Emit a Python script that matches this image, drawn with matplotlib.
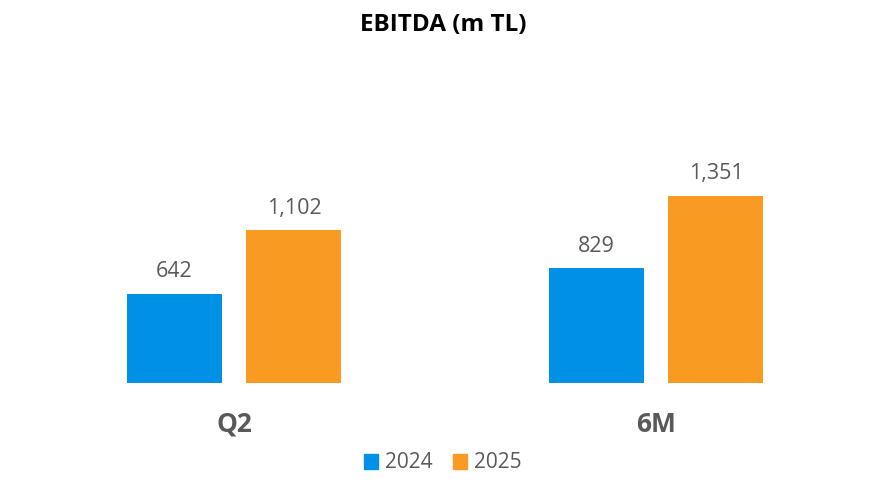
import matplotlib.pyplot as plt
import numpy as np
from matplotlib.patches import Patch

categories = ["Q2", "6M"]
series_names = ["2024", "2025"]
values_2024 = [642, 829]
values_2025 = [1102, 1351]

colors = ["#0091E6", "#F99A22"]
text_gray = "#595959"
font = "Open Sans"

fig = plt.figure(figsize=(8.86, 4.88), dpi=100)
ax = fig.add_axes([23 / 886, 105 / 488, 844 / 886, 323 / 488])

x = np.arange(len(categories))
width = 0.225
offset = (width + 0.059) / 2

for vals, col, shift in [(values_2024, colors[0], -offset), (values_2025, colors[1], offset)]:
    bars = ax.bar(x + shift, vals, width, color=col)
    for b, v in zip(bars, vals):
        ax.annotate(f"{v:,}", xy=(b.get_x() + b.get_width() / 2, v),
                    xytext=(0, 12), textcoords="offset points",
                    ha="center", va="baseline", fontsize=15.5,
                    color=text_gray, family=font)

for i, cat in enumerate(categories):
    ax.annotate(cat, xy=(i, 0), xycoords=("data", "axes fraction"),
                xytext=(0, -35), textcoords="offset points",
                ha="center", va="baseline", fontsize=19,
                fontweight="bold", color=text_gray, family=font)

ax.set_xlim(-0.5, 1.5)
ax.set_ylim(0, 2332)
ax.axis("off")

fig.text(0.5, 1 - 31 / 488, "EBITDA (m TL)", ha="center", va="baseline",
         fontsize=17.5, fontweight="bold", color="black", family=font)

handles = [Patch(color=c, label=n) for c, n in zip(colors, series_names)]
fig.legend(handles=handles, loc="center", bbox_to_anchor=(443 / 886, 1 - 463 / 488),
           ncol=2, frameon=False, handlelength=0.65, handleheight=0.7,
           handletextpad=0.35, columnspacing=1.0,
           prop={"family": font, "size": 15}, labelcolor=text_gray)

fig.savefig("out.png", dpi=100)
